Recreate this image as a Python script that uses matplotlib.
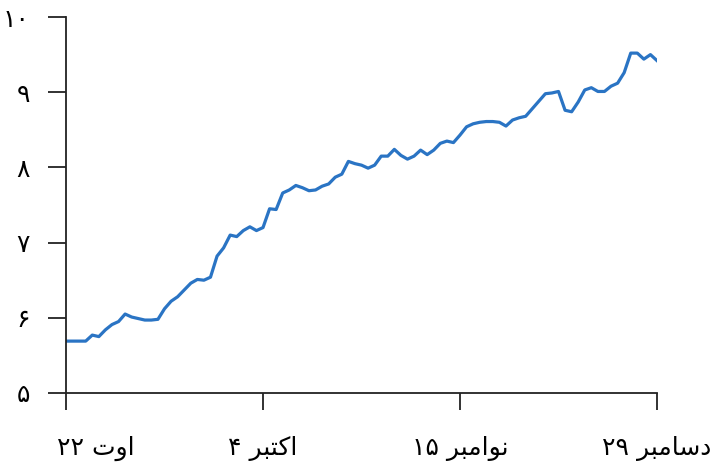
import matplotlib
matplotlib.use("Agg")
import matplotlib.pyplot as plt
from matplotlib.transforms import ScaledTranslation

# one value per trading day, 22 Aug to 29 Dec
values = [5.69, 5.69, 5.69, 5.69, 5.77, 5.75, 5.84, 5.91, 5.95, 6.05,
          6.01, 5.99, 5.97, 5.97, 5.98, 6.12, 6.22, 6.28, 6.37, 6.46,
          6.51, 6.50, 6.54, 6.82, 6.93, 7.10, 7.08, 7.16, 7.21, 7.16,
          7.20, 7.45, 7.44, 7.66, 7.70, 7.76, 7.73, 7.69, 7.70, 7.75,
          7.78, 7.87, 7.91, 8.08, 8.05, 8.03, 7.99, 8.03, 8.15, 8.15,
          8.24, 8.16, 8.11, 8.15, 8.23, 8.17, 8.23, 8.32, 8.35, 8.33,
          8.43, 8.54, 8.58, 8.60, 8.61, 8.61, 8.60, 8.55, 8.63, 8.66,
          8.68, 8.78, 8.88, 8.98, 8.99, 9.01, 8.76, 8.74, 8.87, 9.03,
          9.06, 9.01, 9.01, 9.08, 9.12, 9.26, 9.52, 9.52, 9.44, 9.50,
          9.42]

x_ticks = [0, 30, 60, 90]
# Persian labels, written in visual order with Arabic presentation forms
# because matplotlib does no shaping of its own
x_labels = ["۲۲ \ufe95\ufeed\ufe8d",
            "۴ \ufeae\ufe92\ufe98\ufb90\ufe8d",
            "۱۵ \ufeae\ufe92\ufee3\ufe8d\ufeee\ufee7",
            "۲۹ \ufeae\ufe92\ufee3\ufe8e\ufeb3\ufea9"]
y_ticks = [5, 6, 7, 8, 9, 10]
y_labels = ["۵", "۶", "۷", "۸", "۹", "۱۰"]

fig = plt.figure(figsize=(7.16, 4.74), dpi=100)
ax = fig.add_axes([0.0922, 0.1709, 0.8254, 0.7932])

ax.plot(range(len(values)), values, color="#2a74c4", lw=2.3)

ax.set_xlim(0, 90)
ax.set_ylim(5, 10)
ax.spines["top"].set_visible(False)
ax.spines["right"].set_visible(False)
for s in ["left", "bottom"]:
    ax.spines[s].set_color("#222222")
    ax.spines[s].set_linewidth(1.3)

ax.set_xticks(x_ticks)
ax.set_xticklabels(x_labels, fontsize=18)
ax.set_yticks(y_ticks)
ax.set_yticklabels(y_labels, fontsize=18)
ax.tick_params(axis="x", length=12, width=1.3, color="#222222", pad=19)
ax.tick_params(axis="y", length=13, width=1.3, color="#222222", pad=13)

# first date label sits a bit right of its tick in the original
lab0 = ax.get_xticklabels()[0]
lab0.set_transform(lab0.get_transform() + ScaledTranslation(0.3, 0, fig.dpi_scale_trans))

fig.savefig("out.png", dpi=100)
